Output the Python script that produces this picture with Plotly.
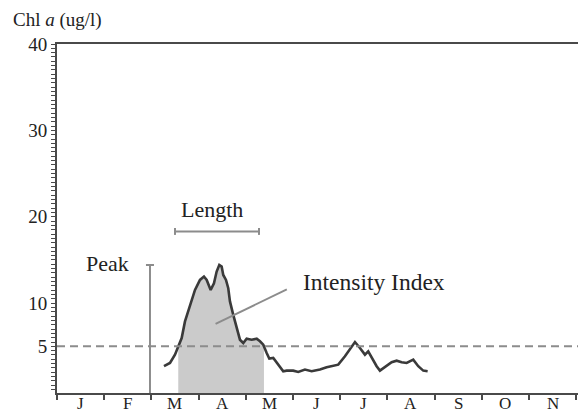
import numpy as np
import plotly.graph_objects as go

# ---- data (month positions: 0 = 1 Jan, 1 = 1 Feb, ...) ----
month_pos = [2.267, 2.394, 2.500, 2.570, 2.642, 2.712, 2.818, 2.924, 3.030, 3.114,
             3.172, 3.256, 3.326, 3.383, 3.439, 3.489, 3.523, 3.581, 3.629, 3.665,
             3.735, 3.807, 3.877, 3.947, 4.019, 4.125, 4.231, 4.301, 4.371, 4.443,
             4.498, 4.583, 4.689, 4.794, 4.867, 5.006, 5.112, 5.254, 5.396, 5.572,
             5.714, 5.820, 5.960, 6.102, 6.208, 6.314, 6.419, 6.525, 6.595, 6.667,
             6.773, 6.843, 6.949, 7.091, 7.197, 7.303, 7.409, 7.549, 7.655, 7.761,
             7.854]
chl = [2.70, 3.08, 4.04, 5.01, 5.96, 7.89, 9.80, 11.53, 12.69, 13.08,
       12.69, 11.53, 12.31, 13.66, 14.42, 14.23, 13.26, 12.69, 11.73, 10.20,
       8.65, 7.12, 5.77, 5.39, 5.88, 5.77, 5.88, 5.58, 5.19, 4.23,
       3.58, 3.66, 2.88, 2.12, 2.19, 2.19, 2.04, 2.31, 2.12, 2.31,
       2.58, 2.70, 2.88, 3.85, 4.61, 5.50, 4.81, 4.04, 4.43, 3.66,
       2.70, 2.19, 2.58, 3.16, 3.34, 3.16, 3.08, 3.46, 2.70, 2.19,
       2.12]
threshold = 5.0
month_labels = ["J", "F", "M", "A", "M", "J", "J", "A", "S", "O", "N"]
y_tick_labels = {5: "5", 10: "10", 20: "20", 30: "30", 40: "40"}
y_range = [-0.4, 40]
x_range = [0, 11.04]

# annotation anchors
peak_x = 1.97
length_span = [2.50, 4.28]
length_y = 18.3
pointer_from = [3.36, 7.6]
pointer_to = [4.87, 11.6]

x = np.array(month_pos)
y = np.array(chl)

# bloom = first contiguous run above threshold
above = y >= threshold
i0 = int(np.argmax(above))
i1 = i0
while i1 + 1 < len(y) and above[i1 + 1]:
    i1 += 1
xs = x[i0 - 1] + (threshold - y[i0 - 1]) * (x[i0] - x[i0 - 1]) / (y[i0] - y[i0 - 1])
xe = x[i1] + (threshold - y[i1]) * (x[i1 + 1] - x[i1]) / (y[i1 + 1] - y[i1])
fx = [xs] + list(x[i0:i1 + 1]) + [xe, xe, xs]
fy = [threshold] + list(y[i0:i1 + 1]) + [threshold, y_range[0], y_range[0]]

# y ticks every 0.5, labelled only at the main values
ytv = [v / 2 for v in range(0, 81)]
ytt = [y_tick_labels.get(int(v), "") if float(v).is_integer() else "" for v in ytv]

SERIF = "Liberation Serif, Times New Roman, serif"
DARK = "#4a4a4a"
GREY = "#8c8c8c"
M_T, M_B = 44, 21
PLOT_H = 414 - M_T - M_B

fig = go.Figure()
fig.add_trace(go.Scatter(x=fx, y=fy, fill="toself", fillcolor="#cbcbcb",
                         line=dict(width=0), mode="lines", hoverinfo="skip"))
fig.add_trace(go.Scatter(x=x, y=y, mode="lines",
                         line=dict(color="#3a3a3a", width=2.6)))

# threshold dashed line
fig.add_shape(type="line", xref="paper", yref="y", x0=0, x1=1, y0=threshold, y1=threshold,
              line=dict(color=GREY, width=2, dash="8px,5px"))
# peak marker
peak = float(y.max())
fig.add_shape(type="line", x0=peak_x, x1=peak_x, y0=y_range[0], y1=peak,
              line=dict(color=GREY, width=2))
fig.add_shape(type="line", x0=peak_x - 0.085, x1=peak_x + 0.085, y0=peak, y1=peak,
              line=dict(color=GREY, width=2))
# length bracket
fig.add_shape(type="line", x0=length_span[0], x1=length_span[1], y0=length_y, y1=length_y,
              line=dict(color=GREY, width=2))
for xv in length_span:
    fig.add_shape(type="line", x0=xv, x1=xv, y0=length_y - 0.4, y1=length_y + 0.4,
                  line=dict(color=GREY, width=2))
# intensity pointer
fig.add_shape(type="line", x0=pointer_from[0], y0=pointer_from[1], x1=pointer_to[0], y1=pointer_to[1],
              line=dict(color=GREY, width=2))

afont = dict(family=SERIF, size=22, color="#222")
fig.add_annotation(x=3.28, y=20.9, text="Length", showarrow=False, font=afont)
fig.add_annotation(x=1.07, y=14.6, text="Peak", showarrow=False, font=afont)
fig.add_annotation(x=6.72, y=12.5, text="Intensity Index", showarrow=False,
                   font=dict(family=SERIF, size=23.5, color="#222"))
fig.add_annotation(xref="paper", yref="paper", x=(12 - 57) / 521, y=1 + 24 / PLOT_H,
                   xanchor="left", yanchor="middle", text="Chl <i>a</i> (ug/l)",
                   showarrow=False, borderpad=0,
                   font=dict(family=SERIF, size=19, color="#222"))

# month labels, centred in each month, sitting on the bottom edge of the page
for i, lab in enumerate(month_labels):
    fig.add_annotation(x=i + 0.5, xref="x", yref="paper", y=-M_B / PLOT_H,
                       xanchor="center", yanchor="bottom", text=lab, showarrow=False,
                       borderpad=0, font=dict(family=SERIF, size=17, color="#222"))

fig.update_layout(
    width=578, height=414,
    margin=dict(l=57, r=0, t=M_T, b=M_B),
    plot_bgcolor="white", paper_bgcolor="white",
    showlegend=False,
    font=dict(family=SERIF, size=19, color="#222"),
    xaxis=dict(range=x_range, showgrid=False, zeroline=False, automargin=False,
               showline=True, linecolor=DARK, linewidth=2, mirror=True,
               tickmode="array", tickvals=list(range(12)), showticklabels=False,
               ticks="outside", ticklen=5, tickcolor=DARK, tickwidth=1.5,
               fixedrange=True),
    yaxis=dict(range=y_range, showgrid=False, zeroline=False, automargin=False,
               showline=True, linecolor=DARK, linewidth=2,
               tickmode="array", tickvals=ytv, ticktext=ytt, ticks="outside",
               ticklen=4, tickcolor=DARK, tickwidth=1.2,
               fixedrange=True),
)

fig.write_html("out.html")
